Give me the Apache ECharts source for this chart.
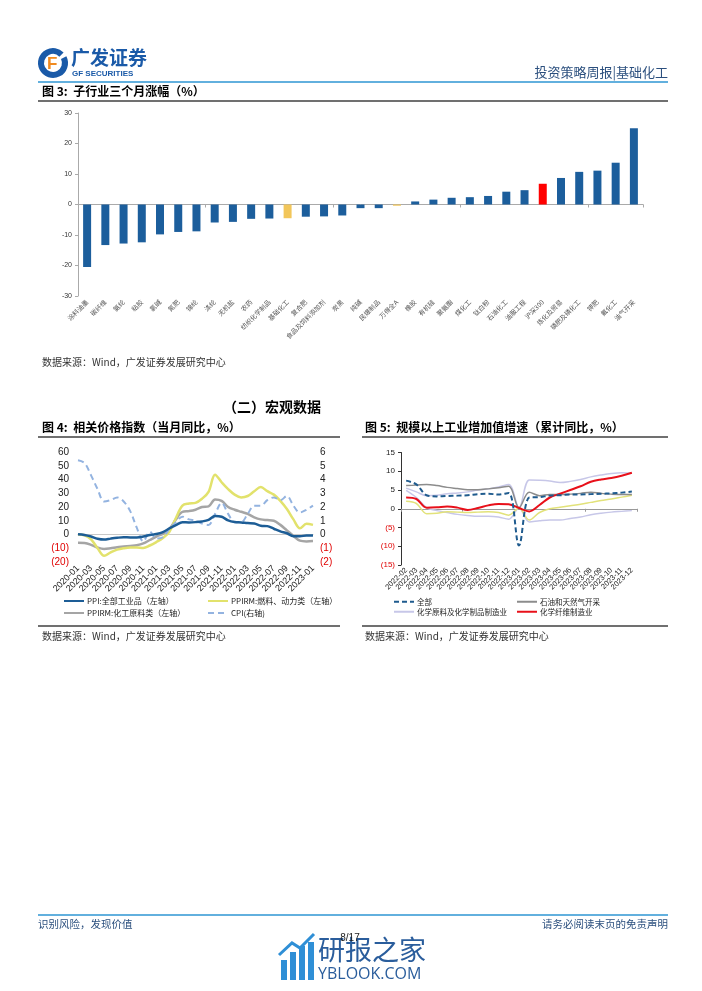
<!DOCTYPE html>
<html><head><meta charset="utf-8">
<script src="https://cdn.jsdelivr.net/npm/echarts@6/dist/echarts.min.js"></script>
<style>html,body{margin:0;padding:0;background:#fff}#c{width:702px;height:991px}</style>
</head><body><div id="c"></div>
<script>
// ---------- Figure 3 data ----------
const barCategories = ['涂料油墨','碳纤维','氨纶','粘胶','氯碱','氮肥','锦纶','涤纶','无机盐','农药','纺织化学制品','基础化工','复合肥','食品及饲料添加剂','炭黑','纯碱','民爆制品','万得全A','橡胶','有机硅','聚氨酯','煤化工','钛白粉','石油化工','油服工程','沪深300','炼化及贸易','磷肥及磷化工','钾肥','氟化工','油气开采'];
const barValues = [-20.5,-13.3,-12.8,-12.4,-9.8,-9.0,-8.8,-5.9,-5.7,-4.7,-4.6,-4.5,-4.0,-3.9,-3.6,-1.2,-1.2,-0.4,1.0,1.6,2.2,2.4,2.8,4.2,4.7,6.8,8.7,10.7,11.1,13.7,25.0];
const yellowBars = ['基础化工','万得全A'];
const redBars = ['沪深300'];
const barTicks = [-30,-20,-10,0,10,20,30];

// ---------- Figure 4 data ----------
const months4 = ['2020-01','2020-02','2020-03','2020-04','2020-05','2020-06','2020-07','2020-08','2020-09','2020-10','2020-11','2020-12',
 '2021-01','2021-02','2021-03','2021-04','2021-05','2021-06','2021-07','2021-08','2021-09','2021-10','2021-11','2021-12',
 '2022-01','2022-02','2022-03','2022-04','2022-05','2022-06','2022-07','2022-08','2022-09','2022-10','2022-11','2022-12','2023-01'];
const ppiAll = [0.1,-0.4,-1.5,-3.1,-3.7,-3.0,-2.4,-2.0,-2.1,-2.1,-1.5,-0.4, 0.3,1.7,4.4,6.8,9.0,8.8,9.0,9.5,10.7,13.5,12.9,10.3, 9.1,8.8,8.3,8.0,6.4,6.1,4.2,2.3,0.9,-1.3,-1.3,-0.7,-0.8];
const ppirmFuel = [0,-0.5,-3.5,-10,-15.5,-13,-11,-10,-9.5,-9.5,-9.8,-8, -5.5,-2.5,2,12,21,22.5,23,26,31,43.5,38,33, 29,27,28,31.5,34.5,31.5,29,24.5,18.5,11,4.5,7.8,7.0];
const ppirmChem = [-6,-6.2,-7.5,-9.5,-10.5,-10,-9.3,-8.8,-8.3,-7.8,-6.5,-4, -1.5,0.5,4,11,16.5,17,18,20,20.5,25.5,24.5,20, 18,16.5,15,12.5,11,10.5,10,7,3,-1,-4.5,-5,-4.8];
const cpi = [5.4,5.2,4.3,3.3,2.4,2.5,2.7,2.4,1.7,0.5,-0.5,0.2, -0.3,-0.2,0.4,0.9,1.3,1.1,1.0,0.8,0.7,1.5,2.3,1.5, 0.9,0.9,1.5,2.1,2.1,2.5,2.7,2.5,2.8,2.1,1.6,1.8,2.1];

// ---------- Figure 5 data ----------
const months5 = ['2022-02','2022-03','2022-04','2022-05','2022-06','2022-07','2022-08','2022-09','2022-10','2022-11','2022-12','2023-01','2023-02','2023-03','2023-04','2023-05','2023-06','2023-07','2023-08','2023-09','2023-10','2023-11','2023-12'];
const indAll = [7.5,6.5,3.6,3.3,3.4,3.5,3.6,3.9,4.0,3.8,4.2,-9.8,3.0,3.1,3.5,3.6,3.8,3.8,3.9,4.0,4.1,4.3,4.6];
const oilGas = [6.2,6.3,6.5,6.2,5.7,5.4,5.1,5.1,5.3,5.6,6.0,0.3,4.4,3.5,3.8,3.8,3.9,4.1,4.4,4.1,3.9,3.8,3.8];
const chemRaw = [5.5,4.5,3.5,3.6,4.0,4.2,4.5,5.0,5.3,5.8,6.5,0.3,7.7,7.6,7.4,7.0,7.3,7.8,8.5,9.0,9.4,9.6,9.5];
const pharma = [4.9,3.0,0.3,-0.5,-1.0,-1.5,-1.8,-2.0,-2.0,-2.2,-2.8,0.2,-3.5,-3.2,-3.0,-3.0,-2.6,-2.2,-1.6,-1.2,-0.9,-0.7,-0.5];
const rubber = [2.0,1.4,-1.3,-1.2,-0.8,-0.9,-1.0,-0.9,-0.8,-1.0,-1.7,0.2,-3.0,-1.0,0.0,0.4,0.8,1.2,1.7,2.2,2.6,3.1,3.6];
const fiber = [3.0,2.6,0.3,0.4,0.6,0.3,-0.3,0.2,0.9,1.3,1.2,0.2,-0.7,1.0,3.0,4.0,5.0,6.0,7.2,7.8,8.2,8.8,9.6];

const CJK = '"Noto Sans CJK SC","Noto Sans",sans-serif';
const LAT = '"Liberation Sans",Arial,sans-serif';
const BLUE = '#1c5e9c';

const chart = echarts.init(document.getElementById('c'), null, {renderer:'canvas'});

function paren(v){ return v < 0 ? '{r|(' + (-v) + ')}' : '{k|' + v + '}'; }

function txt(x, y, text, size, opt){
  opt = opt || {};
  return {type:'text', silent:true, style:{x:x, y:y, text:text, fontSize:size, fontFamily:opt.ff||CJK,
    fontWeight:opt.bold?'bold':'normal', fill:opt.fill||'#000', align:opt.align||'left', verticalAlign:'middle'}};
}
function ln(x1,y1,x2,y2,color,w){
  return {type:'line', silent:true, shape:{x1:x1,y1:y1,x2:x2,y2:y2}, style:{stroke:color, lineWidth:w}};
}

const graphics = [
  // logo
  {type:'arc', silent:true, shape:{cx:53, cy:63, r:12, startAngle:-Math.PI*0.15, endAngle:Math.PI*1.75}, style:{stroke:'#1a5aa8', lineWidth:6, fill:null}},
  txt(47, 64, 'F', 17, {bold:true, fill:'#f08a1f', ff:LAT}),
  txt(71, 58, '广发证券', 19, {bold:true, fill:'#1a5aa8'}),
  txt(72, 74, 'GF SECURITIES', 8, {bold:true, fill:'#1a5aa8', ff:LAT}),
  txt(668, 72, '投资策略周报|基础化工', 13, {fill:'#2b4f7e', align:'right'}),
  ln(38, 82, 668, 82, '#2e96d3', 1.5),
  txt(42, 91, '图 3:  子行业三个月涨幅（%）', 12, {bold:true}),
  ln(38, 101, 668, 101, '#707070', 2),
  txt(42, 362, '数据来源：Wind，广发证券发展研究中心', 10, {fill:'#333'}),
  txt(272, 407, '（二）宏观数据', 14, {bold:true, align:'center'}),
  txt(42, 427, '图 4:  相关价格指数（当月同比，%）', 12, {bold:true}),
  ln(38, 437, 340, 437, '#707070', 2),
  txt(365, 427, '图 5:  规模以上工业增加值增速（累计同比，%）', 12, {bold:true}),
  ln(362, 437, 668, 437, '#707070', 2),
  ln(38, 626, 340, 626, '#707070', 2),
  ln(362, 626, 668, 626, '#707070', 2),
  txt(42, 636, '数据来源：Wind，广发证券发展研究中心', 10, {fill:'#333'}),
  txt(365, 636, '数据来源：Wind，广发证券发展研究中心', 10, {fill:'#333'}),
  ln(38, 915, 668, 915, '#2e96d3', 1.5),
  txt(38, 924, '识别风险，发现价值', 10.5, {fill:'#2b4f7e'}),
  txt(668, 924, '请务必阅读末页的免责声明', 10.5, {fill:'#2b4f7e', align:'right'}),
  // watermark
  {type:'rect', silent:true, shape:{x:281, y:960, width:6, height:20}, style:{fill:'#2f8fd6'}},
  {type:'rect', silent:true, shape:{x:290, y:952, width:6, height:28}, style:{fill:'#2f8fd6'}},
  {type:'rect', silent:true, shape:{x:299, y:946, width:6, height:34}, style:{fill:'#2f8fd6'}},
  {type:'rect', silent:true, shape:{x:308, y:942, width:6, height:38}, style:{fill:'#2f8fd6'}},
  {type:'polyline', silent:true, shape:{points:[[279,955],[292,943],[300,948],[314,934]]}, style:{stroke:'#2f8fd6', lineWidth:3, fill:null}},
  txt(318, 950, '研报之家', 27, {fill:'#2a5d9c'}),
  txt(318, 974, 'YBLOOK.COM', 16, {fill:'#2a5d9c', ff:'"Open Sans",'+LAT}),
  txt(350, 938, '8/17', 10, {fill:'#222', align:'center', ff:LAT})
];

function lineSeries(name, data, xi, yi, color, width, dashed, z){
  return {name:name, type:'line', xAxisIndex:xi, yAxisIndex:yi, data:data, smooth:0.35, symbol:'none', z:z||2,
    lineStyle:{color:color, width:width, type: dashed ? dashed : 'solid'}, itemStyle:{color:color}};
}

const legendBase = {itemWidth:20, itemHeight:8, itemGap:4, padding:0, selectedMode:false,
  itemStyle:{opacity:0},
  textStyle:{fontFamily:CJK, fontSize:8, color:'#222', padding:[0,0,0,-2]}};
function leg(name, left, top, fs){
  return Object.assign({}, legendBase, {data:[name], left:left, top:top,
    textStyle:Object.assign({}, legendBase.textStyle, {fontSize:fs||8})});
}

const option = {
  animation:false,
  backgroundColor:'#fff',
  graphic:graphics,
  grid:[
    {left:78, top:113, width:565, height:183, containLabel:false},
    {left:78, top:452, width:235, height:110, containLabel:false},
    {left:401, top:452.5, width:236, height:112.5, containLabel:false}
  ],
  xAxis:[
    {gridIndex:0, type:'category', data:barCategories, position:'bottom',
     axisLine:{show:false, onZero:false}, axisTick:{show:false},
     axisLabel:{interval:0, rotate:45, fontSize:6.5, color:'#555', fontFamily:CJK, margin:5}},
    {gridIndex:0, type:'category', data:barCategories, position:'bottom',
     axisLine:{show:true, onZero:true, lineStyle:{color:'#aaa', width:1}}, axisTick:{show:true, length:3, lineStyle:{color:'#aaa'}},
     axisLabel:{show:false}},
    {gridIndex:1, type:'category', data:months4, boundaryGap:false, position:'bottom',
     axisLine:{show:false, onZero:false}, axisTick:{show:false},
     axisLabel:{interval:1, rotate:45, fontSize:9, color:'#222', fontFamily:LAT, margin:5}},
    {gridIndex:1, type:'category', data:months4, boundaryGap:false, position:'bottom',
     axisLine:{show:true, onZero:true, lineStyle:{color:'#c8c8c8', width:1}}, axisTick:{show:false}, axisLabel:{show:false}},
    {gridIndex:2, type:'category', data:months5, position:'bottom',
     axisLine:{show:false, onZero:false}, axisTick:{show:false},
     axisLabel:{interval:0, rotate:45, fontSize:7.5, color:'#222', fontFamily:LAT, margin:4}},
    {gridIndex:2, type:'category', data:months5, position:'bottom',
     axisLine:{show:true, onZero:true, lineStyle:{color:'#999', width:1}}, axisTick:{show:true, length:3, lineStyle:{color:'#999'}}, axisLabel:{show:false}}
  ],
  yAxis:[
    {gridIndex:0, type:'value', min:barTicks[0], max:barTicks[barTicks.length-1], interval:10,
     axisLine:{show:true, lineStyle:{color:'#aaa'}}, axisTick:{show:true, length:3, lineStyle:{color:'#aaa'}},
     splitLine:{show:false}, axisLabel:{fontSize:7, color:'#333', fontFamily:LAT, margin:6}},
    {gridIndex:1, type:'value', min:-20, max:60, interval:10, position:'left',
     axisLine:{show:false}, axisTick:{show:false}, splitLine:{show:false},
     axisLabel:{margin:9, formatter:paren, rich:{r:{color:'#e00000', fontSize:10, fontFamily:LAT}, k:{color:'#222', fontSize:10, fontFamily:LAT}}}},
    {gridIndex:1, type:'value', min:-2, max:6, interval:1, position:'right',
     axisLine:{show:false}, axisTick:{show:false}, splitLine:{show:false},
     axisLabel:{margin:7, formatter:paren, rich:{r:{color:'#e00000', fontSize:10, fontFamily:LAT}, k:{color:'#222', fontSize:10, fontFamily:LAT}}}},
    {gridIndex:2, type:'value', min:-15, max:15, interval:5,
     axisLine:{show:true, lineStyle:{color:'#333'}}, axisTick:{show:true, length:3, lineStyle:{color:'#333'}}, splitLine:{show:false},
     axisLabel:{margin:6, formatter:paren, rich:{r:{color:'#e00000', fontSize:8, fontFamily:LAT}, k:{color:'#222', fontSize:8, fontFamily:LAT}}}}
  ],
  legend:[
    leg('PPI:全部工业品（左轴）', 63, 597),
    leg('PPIRM:燃料、动力类（左轴）', 207, 597),
    leg('PPIRM:化工原料类（左轴）', 63, 609),
    leg('CPI(右轴)', 207, 609),
    leg('全部', 393, 598, 7.5),
    leg('石油和天然气开采', 516, 598, 7.5),
    leg('化学原料及化学制品制造业', 393, 608, 7.5),
    leg('化学纤维制造业', 516, 608, 7.5)
  ],
  series:[
    {name:'三个月涨幅', type:'bar', xAxisIndex:0, yAxisIndex:0, barWidth:8,
     data:barValues.map((v,i)=>({value:v, itemStyle:{color: yellowBars.includes(barCategories[i]) ? '#f2c65a' : (redBars.includes(barCategories[i]) ? '#ff0000' : BLUE)}}))},
    lineSeries('PPIRM:化工原料类（左轴）', ppirmChem, 2, 1, '#a5a5a5', 2.5),
    lineSeries('PPIRM:燃料、动力类（左轴）', ppirmFuel, 2, 1, '#e2e26c', 2.5),
    lineSeries('CPI(右轴)', cpi, 2, 2, '#93b3e0', 2, [6,4]),
    lineSeries('PPI:全部工业品（左轴）', ppiAll, 2, 1, '#1d5d96', 2.5, null, 4),
    lineSeries('医药制造业', pharma, 4, 3, '#c7c7e8', 1.5),
    lineSeries('化学原料及化学制品制造业', chemRaw, 4, 3, '#c7c7e8', 1.5),
    lineSeries('橡胶和塑料制品业', rubber, 4, 3, '#e2e27a', 1.5),
    lineSeries('石油和天然气开采', oilGas, 4, 3, '#8c8c8c', 1.5),
    lineSeries('化学纤维制造业', fiber, 4, 3, '#e8101a', 2),
    lineSeries('全部', indAll, 4, 3, '#1f5b8e', 2, [5,3], 4)
  ]
};
chart.setOption(option);
</script></body></html>
